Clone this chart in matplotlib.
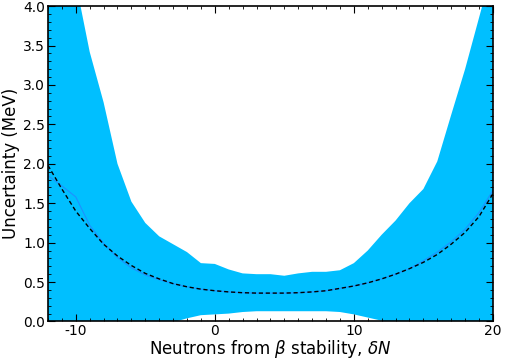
import numpy as np
import matplotlib
matplotlib.use("Agg")
import matplotlib.pyplot as plt
from matplotlib.ticker import MultipleLocator

plt.rcParams['axes.unicode_minus'] = False

# neutrons from beta stability
dN = np.arange(-12, 21)

band_upper = [6.0, 5.0, 4.3, 3.42, 2.78, 2.0, 1.52, 1.25, 1.08, 0.98, 0.88, 0.74,
              0.73, 0.66, 0.61, 0.60, 0.60, 0.58, 0.61, 0.63, 0.63, 0.65,
              0.74, 0.90, 1.10, 1.28, 1.50, 1.68, 2.03, 2.62, 3.2, 3.85, 4.5]
band_lower = [-0.9, -0.75, -0.6, -0.48, -0.38, -0.28, -0.2, -0.13, -0.07, -0.01, 0.04, 0.08,
              0.09, 0.10, 0.12, 0.13, 0.13, 0.13, 0.13, 0.13, 0.13, 0.12,
              0.09, 0.05, 0.01, -0.05, -0.1, -0.16, -0.22, -0.3, -0.38, -0.46, -0.55]
mean_unc = [1.85, 1.72, 1.58, 1.22, 0.99, 0.81, 0.68, 0.59, 0.53, 0.48, 0.44, 0.41,
            0.39, 0.375, 0.365, 0.36, 0.36, 0.36, 0.365, 0.375, 0.39, 0.42,
            0.45, 0.49, 0.54, 0.60, 0.67, 0.77, 0.88, 1.01, 1.17, 1.38, 1.66]
fit_unc = [1.98, 1.68, 1.40, 1.18, 0.98, 0.83, 0.71, 0.61, 0.54, 0.48, 0.44, 0.41,
           0.39, 0.375, 0.365, 0.36, 0.36, 0.36, 0.365, 0.375, 0.39, 0.42,
           0.45, 0.49, 0.54, 0.60, 0.67, 0.75, 0.85, 0.98, 1.13, 1.33, 1.62]

fig = plt.figure(figsize=(5.05, 3.6), dpi=100)
ax = fig.add_axes([0.095, 0.107, 0.881, 0.876])

ax.fill_between(dN, band_lower, band_upper, color='#00bfff', linewidth=0)
ax.plot(dN, mean_unc, color='#1e90ff', linewidth=0.8)
ax.plot(dN, fit_unc, color='black', linestyle='--', linewidth=1.0, dashes=(3, 2))

ax.set_xlim(-12, 20)
ax.set_ylim(0, 4)
ax.xaxis.set_major_locator(MultipleLocator(10))
ax.xaxis.set_minor_locator(MultipleLocator(1))
ax.yaxis.set_major_locator(MultipleLocator(0.5))
ax.yaxis.set_minor_locator(MultipleLocator(0.1))
ax.tick_params(which='both', direction='in', top=True, right=True, labelsize=10, pad=2)
ax.tick_params(which='major', length=5)
ax.tick_params(which='minor', length=2.5)
for s in ax.spines.values():
    s.set_linewidth(1.2)

ax.set_xlabel(r'Neutrons from $\beta$ stability, $\delta N$', fontsize=12, labelpad=0)
ax.set_ylabel('Uncertainty (MeV)', fontsize=12, labelpad=2)

fig.savefig('out.png', dpi=100)
